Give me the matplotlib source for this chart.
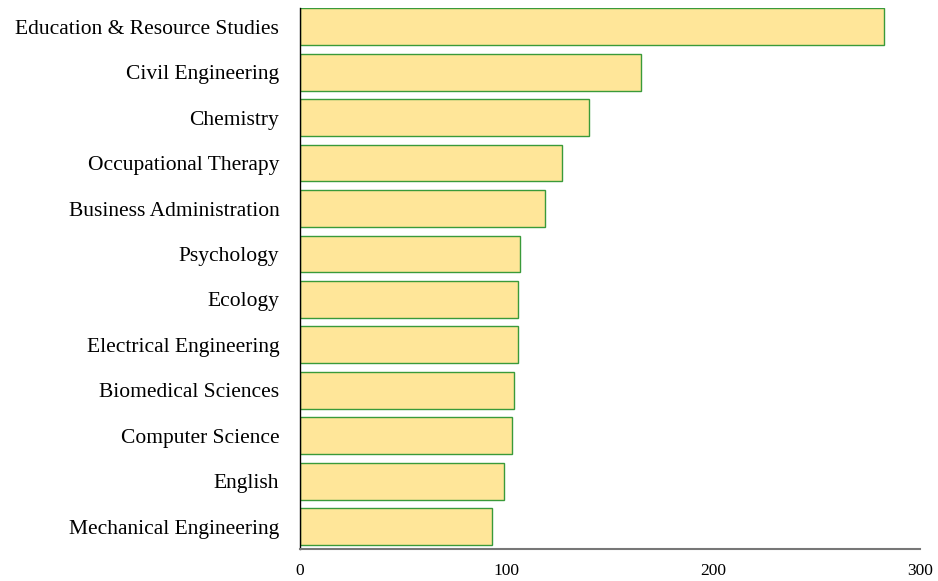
import matplotlib
matplotlib.use('Agg')
import matplotlib.pyplot as plt

departments = ['Mechanical Engineering', 'English', 'Computer Science', 'Biomedical Sciences',
               'Electrical Engineering', 'Ecology', 'Psychology', 'Business Administration',
               'Occupational Therapy', 'Chemistry', 'Civil Engineering', 'Education & Resource Studies']
counts = [92.8, 98.6, 102.4, 103.4, 105.3, 105.3, 106.3, 118.4, 126.6, 139.6, 164.7, 282.6]
xticks = [0, 100, 200, 300]

plt.rcParams['font.family'] = ['Liberation Serif', 'DejaVu Serif']

fig = plt.figure(figsize=(9.38, 5.81), dpi=100)
ax = fig.add_axes([0.32, 0.055, 0.661, 0.931])

ax.barh(range(len(departments)), counts, height=0.81, color='#ffe699',
        edgecolor='#3a9a3a', linewidth=1)

ax.set_xlim(0, 300)
ax.set_ylim(-0.495, 11.41)
ax.set_yticks(range(len(departments)))
ax.set_yticklabels(departments, fontsize=15.5)
ax.set_xticks(xticks)
ax.set_xticklabels([str(t) for t in xticks], fontsize=12.5)
ax.tick_params(axis='y', length=0, pad=15)
ax.tick_params(axis='x', length=0, pad=10)

for s in ['top', 'right']:
    ax.spines[s].set_visible(False)
ax.spines['left'].set_color('black')
ax.spines['left'].set_linewidth(1)
ax.spines['bottom'].set_color('#777777')
ax.spines['bottom'].set_linewidth(1.5)

plt.savefig('out.png', format='png')
